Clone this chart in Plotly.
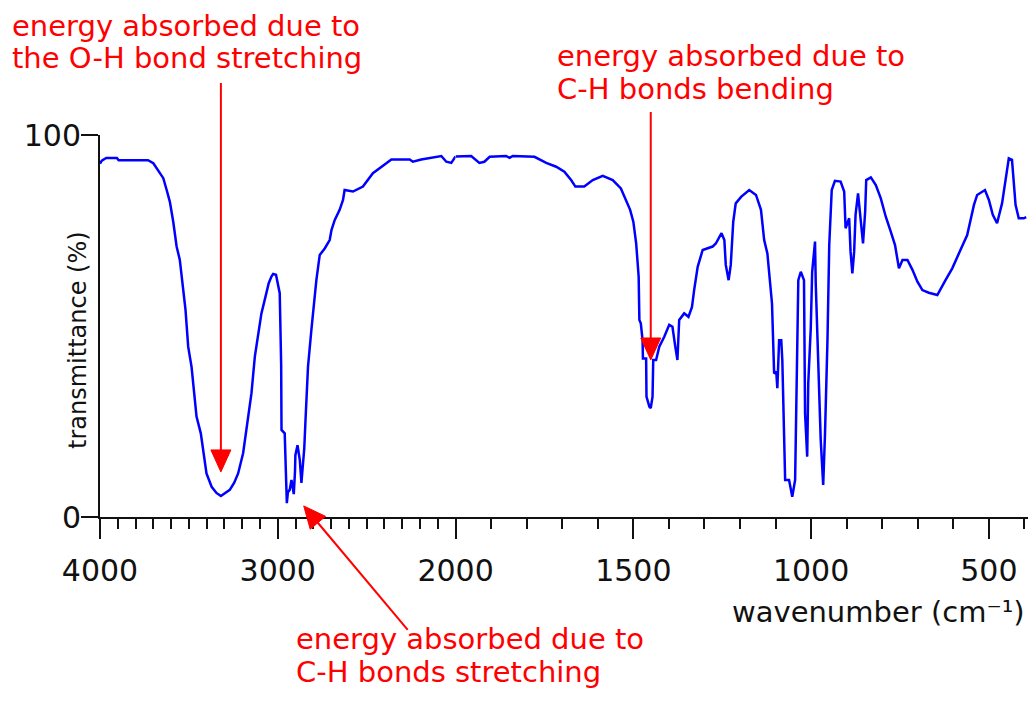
import math
import plotly.graph_objects as go

# IR spectrum of ethanol: wavenumber (cm-1) vs transmittance (%)
wavenumber = [
    4000, 3990, 3965, 3905, 3895, 3730, 3700, 3672, 3644, 3625, 3607, 3588,
    3569, 3551, 3538, 3519, 3504, 3485, 3472, 3457, 3433, 3420, 3401, 3372,
    3345, 3320, 3295, 3270, 3245, 3223, 3195, 3167, 3148, 3129, 3111, 3092,
    3069, 3051, 3035, 3026, 3010, 2995, 2989, 2981, 2979, 2961, 2953, 2949,
    2943, 2933, 2923, 2915, 2910, 2903, 2901, 2889, 2880, 2876, 2867, 2862,
    2858, 2851, 2844, 2830, 2811, 2796, 2783, 2764, 2736, 2708, 2698, 2680,
    2652, 2633, 2624, 2577, 2521, 2465, 2408, 2361, 2258, 2240, 2193, 2080,
    2052, 2024, 2000, 1956, 1933, 1919, 1904, 1858, 1848, 1839, 1778, 1745,
    1717, 1694, 1675, 1663, 1638, 1614, 1586, 1558, 1535, 1521, 1509, 1500,
    1492, 1485, 1483, 1479, 1474, 1473, 1464, 1463, 1455, 1451, 1446, 1444,
    1436, 1427, 1413, 1399, 1390, 1382, 1376, 1371, 1357, 1345, 1335, 1329,
    1319, 1305, 1277, 1268, 1260, 1252, 1244, 1240, 1232, 1226, 1219, 1212,
    1197, 1174, 1155, 1141, 1132, 1123, 1110, 1104, 1098, 1095, 1090, 1084,
    1081, 1073, 1062, 1053, 1045, 1041, 1036, 1029, 1020, 1017, 1011, 1008,
    1001, 997, 989, 987, 980, 973, 966, 961, 954, 949, 942, 933, 917, 907,
    903, 893, 889, 884, 879, 875, 868, 861, 854, 848, 845, 832, 818, 804,
    790, 776, 764, 753, 743, 729, 715, 701, 687, 669, 645, 622, 603, 580,
    561, 542, 533, 511, 500, 489, 477, 463, 452, 444, 435, 425, 416, 402, 395,
]
transmittance = [
    92.5, 93.3, 94.0, 94.0, 93.4, 93.4, 92.6, 90.8, 88.7, 85.6, 82.5, 77.3,
    70.8, 67.3, 61.2, 54.2, 44.6, 39.3, 33.2, 26.3, 21.9, 17.1, 11.4, 7.9,
    6.3, 5.5, 6.2, 7.1, 9.0, 11.4, 16.7, 25.4, 32.4, 42.0, 48.1, 53.3,
    57.7, 61.2, 63.0, 63.6, 63.4, 60.5, 58.6, 40.0, 22.8, 21.9, 8.0, 3.6,
    6.5, 7.1, 9.7, 7.0, 6.0, 12.0, 16.2, 18.8, 16.5, 14.9, 8.9, 12.0,
    14.9, 18.0, 25.4, 39.3, 49.0, 56.8, 62.0, 68.6, 70.3, 72.5, 75.1, 77.7,
    80.4, 83.0, 85.6, 85.2, 86.5, 90.0, 92.1, 93.6, 93.6, 93.0, 93.6, 94.5,
    93.0, 92.7, 94.4, 94.5, 92.7, 93.0, 94.3, 94.5, 94.0, 94.5, 94.3, 92.7,
    91.7, 90.4, 88.2, 86.5, 86.5, 88.2, 89.3, 88.2, 86.0, 83.0, 80.4, 77.3,
    71.6, 62.9, 51.6, 50.7, 46.3, 41.5, 41.5, 31.5, 28.9, 28.5, 31.5, 41.1,
    41.1, 44.6, 47.2, 50.3, 49.8, 44.6, 41.1, 51.6, 53.3, 52.4, 55.0, 59.4,
    65.5, 69.9, 70.8, 71.6, 72.9, 74.3, 72.5, 66.0, 62.0, 66.0, 77.3, 82.1,
    83.8, 85.6, 84.3, 80.4, 72.5, 69.0, 55.9, 37.6, 38.0, 33.7, 46.3, 46.3,
    41.1, 9.7, 9.7, 5.3, 9.7, 39.3, 62.0, 64.2, 62.0, 27.1, 15.8, 35.0,
    49.4, 64.2, 72.1, 61.2, 40.2, 20.2, 8.4, 21.5, 46.3, 71.2, 85.6, 88.0, 87.8, 85.2,
    75.6, 78.2, 69.4, 63.8, 69.4, 79.1, 84.7, 78.6, 71.6, 79.9, 88.2, 88.9, 86.9, 83.4,
    78.6, 74.7, 71.2, 65.1, 67.3, 67.3, 64.7, 61.6, 59.4, 58.7, 58.1, 62.0, 65.1, 69.9,
    73.8, 81.7, 84.3, 85.6, 83.0, 79.1, 76.9, 82.1, 88.7, 93.9, 93.5, 81.7, 78.2, 78.2, 78.5,
]

# Axis ticks (the scale doubles below 2000 cm-1)
high_ticks = [4000, 3000]
low_ticks = [2000, 1500, 1000, 500]
high_range = [4000, 2000]
low_range = [2000, 390]
y_range = [0, 100]
y_ticks = [0, 100]

# Annotated absorptions: wavenumber and transmittance at the arrow tip
oh_stretch = (3320, 11.8)
ch_bend = (1451, 41.1)
ch_stretch = (2854, 2.9)

W, H = 1028, 714
L, R, T, B = 100, 0, 135, 197
PW, PH = W - L - R, H - T - B

FONT = "DejaVu Sans"
BLUE = "#0000ff"
RED = "#ff0000"
INK = "#111111"

high_span = high_range[0] - high_range[1]
low_span = low_range[0] - low_range[1]
split = high_span / (high_span + 2 * low_span)
# pixels per wavenumber on each part of the x axis
k_high = split * PW / high_span
k_low = (1 - split) * PW / low_span

hi_x = [w for w in wavenumber if w >= 2000]
hi_y = [t for w, t in zip(wavenumber, transmittance) if w >= 2000]
lo_x = [w for w in wavenumber if w <= 2000]
lo_y = [t for w, t in zip(wavenumber, transmittance) if w <= 2000]

line = dict(color=BLUE, width=2.5)
fig = go.Figure()
fig.add_trace(go.Scatter(x=hi_x, y=hi_y, mode="lines", line=line,
                         xaxis="x", yaxis="y", showlegend=False,
                         hoverinfo="skip"))
fig.add_trace(go.Scatter(x=lo_x, y=lo_y, mode="lines", line=line,
                         xaxis="x2", yaxis="y", showlegend=False,
                         hoverinfo="skip"))

axis_common = dict(
    showline=True, linecolor=INK, linewidth=2, showgrid=False, zeroline=False,
    ticks="outside", ticklen=20, tickwidth=2, tickcolor=INK,
    tickfont=dict(family=FONT, size=30, color=INK), ticklabelstandoff=6,
    minor=dict(ticks="outside", ticklen=10, tickwidth=2, tickcolor=INK,
               tickmode="linear", tick0=0, dtick=100),
    fixedrange=True,
)

fig.update_layout(
    width=W, height=H,
    margin=dict(l=L, r=R, t=T, b=B, pad=0),
    paper_bgcolor="white", plot_bgcolor="white",
    xaxis=dict(domain=[0, split], range=high_range, tickmode="array",
               tickvals=high_ticks, ticktext=[str(v) for v in high_ticks],
               anchor="y", **axis_common),
    xaxis2=dict(domain=[split, 1], range=low_range, tickmode="array",
                tickvals=low_ticks, ticktext=[str(v) for v in low_ticks],
                anchor="y", **axis_common),
    yaxis=dict(range=y_range, tickmode="array", tickvals=y_ticks,
               showline=True, linecolor=INK, linewidth=2, showgrid=False,
               zeroline=False, ticks="outside", ticklen=17, tickwidth=2,
               tickcolor=INK, tickfont=dict(family=FONT, size=30, color=INK),
               ticklabelstandoff=-6, anchor="x", fixedrange=True),
)


def px(x):
    return (x - L) / PW


def py(y):
    return (H - B - y) / PH


annotations = []

# axis titles
annotations.append(dict(
    text="transmittance (%)", textangle=-90, x=px(62), y=py(340),
    xref="paper", yref="paper", showarrow=False,
    font=dict(family=FONT, size=24, color=INK)))
annotations.append(dict(
    text="wavenumber (cm\u207b\u00b9)", x=px(1027), y=py(612),
    xref="paper", yref="paper", xanchor="right", yanchor="middle",
    showarrow=False, font=dict(family=FONT, size=29, color=INK)))

# red labels, one line each
labels = [
    ("energy absorbed due to", 10, 26),
    ("the O-H bond stretching", 10, 58),
    ("energy absorbed due to", 555, 56),
    ("C-H bonds bending", 555, 89),
    ("energy absorbed due to", 294, 639),
    ("C-H bonds stretching", 294, 672),
]
for text, lx, ly in labels:
    annotations.append(dict(
        text=text, x=px(lx), y=py(ly), xref="paper", yref="paper",
        xanchor="left", yanchor="middle", showarrow=False,
        font=dict(family=FONT, size=29, color=RED)))

fig.update_layout(annotations=annotations)


def arrow_shapes(xref, k, tip, tail_dx, tail_dy, head_len=22, head_half=10):
    """Red arrow whose tip sits on (wavenumber, transmittance); the tail is
    given as a screen offset in pixels (x right, y down) from the tip."""
    wn0, t0 = tip
    y0 = (t0 - y_range[0]) / (y_range[1] - y_range[0])

    def to_ref(ox, oy):
        return wn0 - ox / k, y0 - oy / PH

    n = math.hypot(tail_dx, tail_dy)
    ux, uy = -tail_dx / n, -tail_dy / n          # direction tail -> tip
    bx, by = -ux * head_len, -uy * head_len       # base centre of the head
    qx, qy = -uy * head_half, ux * head_half      # half-width vector
    tail = to_ref(tail_dx, tail_dy)
    base = to_ref(bx + ux * 2, by + uy * 2)
    c1 = to_ref(bx + qx, by + qy)
    c2 = to_ref(bx - qx, by - qy)
    apex = to_ref(0, 0)
    return [
        dict(type="line", xref=xref, yref="paper",
             x0=tail[0], y0=tail[1], x1=base[0], y1=base[1],
             line=dict(color=RED, width=2)),
        dict(type="path", xref=xref, yref="paper",
             path=f"M{apex[0]},{apex[1]} L{c1[0]},{c1[1]} L{c2[0]},{c2[1]} Z",
             fillcolor=RED, line=dict(color=RED, width=1)),
    ]


shapes = []
shapes += arrow_shapes("x", k_high, oh_stretch, 0, -389)
shapes += arrow_shapes("x2", k_low, ch_bend, 0, -248)
shapes += arrow_shapes("x", k_high, ch_stretch, 104, 124)
fig.update_layout(shapes=shapes)

fig.write_html("out.html")
